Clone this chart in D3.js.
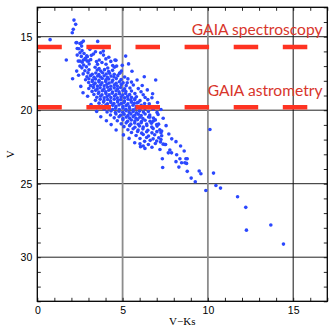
<!DOCTYPE html>
<html>
<head>
<meta charset="utf-8">
<script src="https://cdn.jsdelivr.net/npm/d3@7"></script>
<style>
  body { margin: 0; background: #fff; }
  svg { display: block; }
  .tick text { font-family: "Liberation Sans", Arial, sans-serif; font-size: 10.5px; fill: #000; }
</style>
</head>
<body>
<div id="chart"></div>
<script>
// axis ranges and labels
var xDomain = [0, 17];
var yDomain = [13, 33];
var xMajor = [0, 5, 10, 15];
var yMajor = [15, 20, 25, 30];
var gaiaLimits = [15.7, 19.8];
var gaiaNames = ["GAIA spectroscopy", "GAIA astrometry"];

// bright stars above the main clump  [V-Ks, V]
var bright = [
  [0.75,15.2],[2.15,13.87],[2.25,14.16],[2.11,14.5],[2.05,14.73],[2.27,15.41],[2.5,15.46],[2.7,15.3],
  [2.6,15.64],[2.34,15.8],[3.54,15.32],[3.87,15.98],[1.7,16.59],[2.07,17.86],[2.31,17.34],[2.8,16.55],
  [2.9,16.3],[2.5,16.66],[3.0,16.66],[2.31,15.4],[2.6,15.4],[2.5,16.09],[2.44,15.82],[2.34,16.25],
  [2.4,16.66],[2.7,16.59],[2.5,17.0],[2.93,16.36],[4.61,16.61],[4.65,17.0],[6.27,17.72],[6.94,17.95],
  [6.76,18.88],[5.72,19.22],[5.86,19.49],[5.18,16.32],[5.27,18.13],[4.55,16.59],[4.85,17.45],[6.56,19.56]
];

// main clump
var clump = [
  [2.62,15.95],[3.08,15.86],[3.41,16.02],
  [2.74,16.14],[3.29,16.18],[3.71,16.09],
  [2.58,16.34],[3.17,16.27],[3.88,16.25],[4.19,16.4],
  [2.81,16.47],[3.13,16.56],[3.63,16.58],[4.02,16.51],
  [2.63,16.73],[2.92,16.66],[3.47,16.69],[3.79,16.75],[4.31,16.68],
  [2.72,16.93],[3.04,16.86],[3.53,16.88],[4.03,16.87],[4.42,16.96],
  [2.61,17.12],[2.88,17.05],[3.39,17.08],[3.62,17.17],[4.13,17.13],[4.52,17.07],
  [2.79,17.32],[3.03,17.25],[3.51,17.27],[3.72,17.34],[3.94,17.24],[4.18,17.37],[4.41,17.29],[4.93,17.33],
  [2.69,17.53],[2.97,17.46],[3.22,17.55],[3.43,17.47],[3.61,17.57],[3.83,17.45],[4.04,17.54],[4.23,17.48],[4.51,17.56],[4.82,17.49],
  [2.91,17.72],[3.12,17.65],[3.33,17.76],[3.54,17.67],[3.71,17.74],[3.92,17.66],[4.11,17.77],[4.32,17.68],[4.49,17.73],[4.72,17.65],[5.12,17.74],
  [2.83,17.93],[3.02,17.86],[3.23,17.95],[3.41,17.87],[3.62,17.96],[3.81,17.84],[4.02,17.94],[4.19,17.88],[4.42,17.97],[4.63,17.85],[4.91,17.92],[5.31,17.87],
  [3.01,18.12],[3.22,18.05],[3.39,18.16],[3.61,18.07],[3.79,18.14],[4.01,18.04],[4.21,18.15],[4.38,18.08],[4.62,18.17],[4.81,18.06],[5.03,18.13],[5.52,18.09],
  [3.12,18.33],[3.31,18.25],[3.52,18.36],[3.71,18.27],[3.92,18.34],[4.08,18.24],[4.31,18.37],[4.52,18.28],[4.69,18.35],[4.92,18.26],[5.21,18.33],[5.63,18.29],
  [3.02,18.52],[3.29,18.45],[3.51,18.56],[3.68,18.47],[3.91,18.55],[4.12,18.44],[4.29,18.57],[4.51,18.48],[4.71,18.54],[4.88,18.46],[5.12,18.55],[5.43,18.49],[5.92,18.53],
  [3.21,18.72],[3.42,18.65],[3.61,18.76],[3.82,18.67],[4.01,18.74],[4.19,18.64],[4.41,18.77],[4.62,18.68],[4.79,18.75],[5.02,18.66],[5.19,18.73],[5.52,18.69],[6.08,18.74],
  [3.32,18.93],[3.58,18.86],[3.79,18.95],[4.02,18.87],[4.21,18.96],[4.39,18.85],[4.61,18.94],[4.82,18.88],[5.01,18.97],[5.18,18.86],[5.41,18.93],[5.72,18.87],[6.21,18.95],
  [3.49,19.12],[3.71,19.05],[3.92,19.16],[4.09,19.07],[4.31,19.14],[4.52,19.04],[4.69,19.15],[4.91,19.08],[5.12,19.16],[5.29,19.06],[5.52,19.13],[5.81,19.09],[6.32,19.14],
  [3.41,19.33],[3.69,19.26],[3.91,19.35],[4.12,19.27],[4.29,19.36],[4.51,19.25],[4.72,19.34],[4.89,19.28],[5.11,19.37],[5.32,19.26],[5.49,19.33],[5.71,19.29],[6.02,19.35],[6.48,19.28],
  [3.62,19.52],[3.88,19.45],[4.11,19.56],[4.31,19.47],[4.49,19.54],[4.71,19.44],[4.92,19.55],[5.09,19.48],[5.31,19.57],[5.52,19.46],[5.69,19.53],[5.91,19.47],[6.29,19.54],
  [3.79,19.72],[4.02,19.65],[4.19,19.76],[4.42,19.67],[4.61,19.74],[4.79,19.64],[5.02,19.75],[5.21,19.68],[5.39,19.77],[5.61,19.66],[5.82,19.73],[6.09,19.67],[6.62,19.74],
  [3.92,19.93],[4.19,19.86],[4.41,19.95],[4.59,19.87],[4.81,19.96],[5.02,19.85],[5.19,19.94],[5.41,19.88],[5.62,19.97],[5.79,19.86],[6.01,19.93],[6.31,19.89],[6.79,19.94],
  [4.09,20.12],[4.32,20.05],[4.58,20.16],[4.79,20.07],[5.01,20.14],[5.21,20.04],[5.39,20.15],[5.62,20.08],[5.81,20.17],[5.99,20.06],[6.22,20.13],[6.51,20.09],[7.02,20.15],
  [4.29,20.33],[4.61,20.26],[4.88,20.35],[5.09,20.27],[5.31,20.36],[5.49,20.25],[5.71,20.34],[5.92,20.28],[6.09,20.37],[6.32,20.26],[6.59,20.33],[7.08,20.29],
  [4.51,20.52],[4.79,20.45],[5.02,20.56],[5.21,20.47],[5.41,20.54],[5.62,20.44],[5.79,20.55],[6.01,20.48],[6.19,20.57],[6.52,20.46],[6.81,20.53],
  [4.69,20.72],[5.02,20.65],[5.29,20.76],[5.51,20.67],[5.72,20.74],[5.88,20.64],[6.11,20.77],[6.32,20.68],[6.61,20.75],[6.92,20.66],
  [4.92,20.93],[5.21,20.86],[5.48,20.95],[5.71,20.87],[5.92,20.96],[6.09,20.85],[6.41,20.94],[6.69,20.88],[7.11,20.95],
  [5.08,21.12],[5.41,21.05],[5.72,21.16],[5.99,21.07],[6.21,21.14],[6.42,21.04],[6.71,21.15],[7.02,21.08],
  [5.31,21.33],[5.62,21.26],[5.91,21.35],[6.19,21.27],[6.48,21.36],[6.79,21.25],[7.18,21.34],
  [5.52,21.52],[5.88,21.45],[6.12,21.56],[6.41,21.47],[6.72,21.54],[7.01,21.46],
  [5.79,21.72],[6.21,21.65],[6.52,21.76],[6.88,21.67],[7.29,21.74],
  [6.02,21.93],[6.41,21.86],[6.79,21.95],[7.12,21.87],
  [6.29,22.12],[6.62,22.05],[7.22,22.16],
  [6.51,22.33],[6.92,22.27],
  [6.72,22.52]
];

// scattered stars around the clump edges
var edges = [
  [2.42,17.62],[2.55,18.38],[2.68,18.81],[2.95,19.05],[3.15,19.62],[3.48,20.08],[3.72,20.45],[4.05,20.72],
  [4.33,20.98],[4.62,21.35],[5.05,21.68],[5.38,21.92],[5.71,22.21],[6.05,22.48],[5.55,17.35],[5.85,17.95],
  [6.15,18.32],[6.45,18.62],[6.72,19.15],[7.05,19.48],[7.25,19.95],[7.38,20.55],[7.55,21.05],[7.71,21.62],
  [7.88,21.95],[4.98,16.95],[5.35,16.85]
];

// faint red tail
var tail = [
  [7.35,23.9],[7.33,23.3],[7.77,22.71],[7.68,22.9],[7.87,22.9],[8.17,23.03],[8.61,22.78],[8.4,22.44],
  [8.13,22.14],[7.52,22.33],[7.38,22.31],[7.25,21.99],[7.29,21.42],[7.25,21.53],[7.19,22.67],[8.3,23.87],
  [8.13,23.5],[8.46,23.57],[8.71,23.3],[8.79,23.3],[8.65,23.57],[8.75,23.62],[8.36,23.3],[8.79,24.16],
  [9.02,24.62],[9.26,24.87],[9.49,24.14],[9.59,24.32],[9.88,25.46],[10.33,24.28],[10.47,25.12],[10.74,25.3],
  [11.74,25.89],[12.22,26.61],[12.26,28.16],[13.69,27.81],[14.43,29.11],[10.12,21.31],[6.8,20.74],[7.0,20.97],
  [6.6,20.47],[7.48,22.33],[7.0,22.1],[6.31,22.6],[6.21,22.44],[6.02,22.28]
];

var stars = bright.concat(clump, edges, tail);

var W = 332, H = 332;
var plotLeft = 37.3, plotRight = 327.3, plotTop = 7.3, plotBottom = 301.3;

var x = d3.scaleLinear().domain(xDomain).range([plotLeft, plotRight]);
var y = d3.scaleLinear().domain(yDomain).range([plotTop, plotBottom]);

var svg = d3.select("#chart").append("svg")
    .attr("width", W)
    .attr("height", H);

//Grid lines
svg.selectAll(".hgrid")
    .data(yMajor)
    .enter().append("line")
    .attr("x1", plotLeft).attr("x2", plotRight)
    .attr("y1", function(d) { return y(d); })
    .attr("y2", function(d) { return y(d); })
    .attr("stroke", "#222")
    .attr("stroke-width", 1);

svg.selectAll(".vgrid")
    .data(xMajor.slice(1))
    .enter().append("line")
    .attr("y1", plotTop).attr("y2", plotBottom)
    .attr("x1", function(d) { return x(d); })
    .attr("x2", function(d) { return x(d); })
    .attr("stroke", function(d) { return d == 15 ? "#111" : "#8c8c8c"; })
    .attr("stroke-width", function(d) { return d == 15 ? 1 : 1.8; });

//Minor ticks, pointing inwards on all four sides
var xMinor = d3.range(0, 18, 1);
var yMinor = d3.range(13, 34, 1);

svg.append("g")
    .attr("transform", "translate(0," + plotBottom + ")")
    .call(d3.axisBottom(x).tickValues(xMinor).tickSize(-3.5).tickFormat(""));
svg.append("g")
    .attr("transform", "translate(0," + plotTop + ")")
    .call(d3.axisTop(x).tickValues(xMinor).tickSize(-3.5).tickFormat(""));
svg.append("g")
    .attr("transform", "translate(" + plotLeft + ",0)")
    .call(d3.axisLeft(y).tickValues(yMinor).tickSize(-3.5).tickFormat(""));
svg.append("g")
    .attr("transform", "translate(" + plotRight + ",0)")
    .call(d3.axisRight(y).tickValues(yMinor).tickSize(-3.5).tickFormat(""));

svg.selectAll(".domain").remove();
svg.selectAll(".tick line").attr("stroke", "#111").attr("stroke-width", 0.9);

//Tick labels
svg.append("g")
    .attr("transform", "translate(0," + plotBottom + ")")
    .call(d3.axisBottom(x).tickValues(xMajor).tickSize(0).tickPadding(5))
    .call(function(g) { g.select(".domain").remove(); });
svg.append("g")
    .attr("transform", "translate(" + plotLeft + ",0)")
    .call(d3.axisLeft(y).tickValues(yMajor).tickSize(0).tickPadding(5))
    .call(function(g) { g.select(".domain").remove(); });

//Stars
svg.append("g")
    .selectAll("circle")
    .data(stars)
    .enter().append("circle")
    .attr("cx", function(d) { return x(d[0]); })
    .attr("cy", function(d) { return y(d[1]); })
    .attr("r", 1.8)
    .attr("fill", "#2b48ff");

//GAIA limits
svg.selectAll(".gaia")
    .data(gaiaLimits)
    .enter().append("line")
    .attr("x1", plotLeft).attr("x2", plotRight)
    .attr("y1", function(d) { return y(d); })
    .attr("y2", function(d) { return y(d); })
    .attr("stroke", "#ff3322")
    .attr("stroke-width", 4.5)
    .attr("stroke-dasharray", "24.5,24.6");

svg.selectAll(".gaialabel")
    .data(gaiaNames)
    .enter().append("text")
    .attr("x", 322.5)
    .attr("y", function(d, i) { return y(gaiaLimits[i]) - 11.5; })
    .attr("text-anchor", "end")
    .style("font-family", "Lato, 'Open Sans', sans-serif")
    .style("font-size", "15.6px")
    .attr("fill", "#d8352b")
    .text(function(d) { return d; });

//Frame
svg.append("rect")
    .attr("x", plotLeft).attr("y", plotTop)
    .attr("width", plotRight - plotLeft).attr("height", plotBottom - plotTop)
    .attr("fill", "none")
    .attr("stroke", "#000")
    .attr("stroke-width", 1.3);

//Axis titles
svg.append("text")
    .attr("x", (plotLeft + plotRight) / 2)
    .attr("y", 324.5)
    .attr("text-anchor", "middle")
    .style("font-family", "'Liberation Serif', 'Times New Roman', serif")
    .style("font-size", "11px")
    .text("V\u2212Ks");

svg.append("text")
    .attr("transform", "translate(14," + ((plotTop + plotBottom) / 2) + ") rotate(-90)")
    .attr("text-anchor", "middle")
    .style("font-family", "'Liberation Serif', 'Times New Roman', serif")
    .style("font-size", "11px")
    .text("V");
</script>
</body>
</html>
